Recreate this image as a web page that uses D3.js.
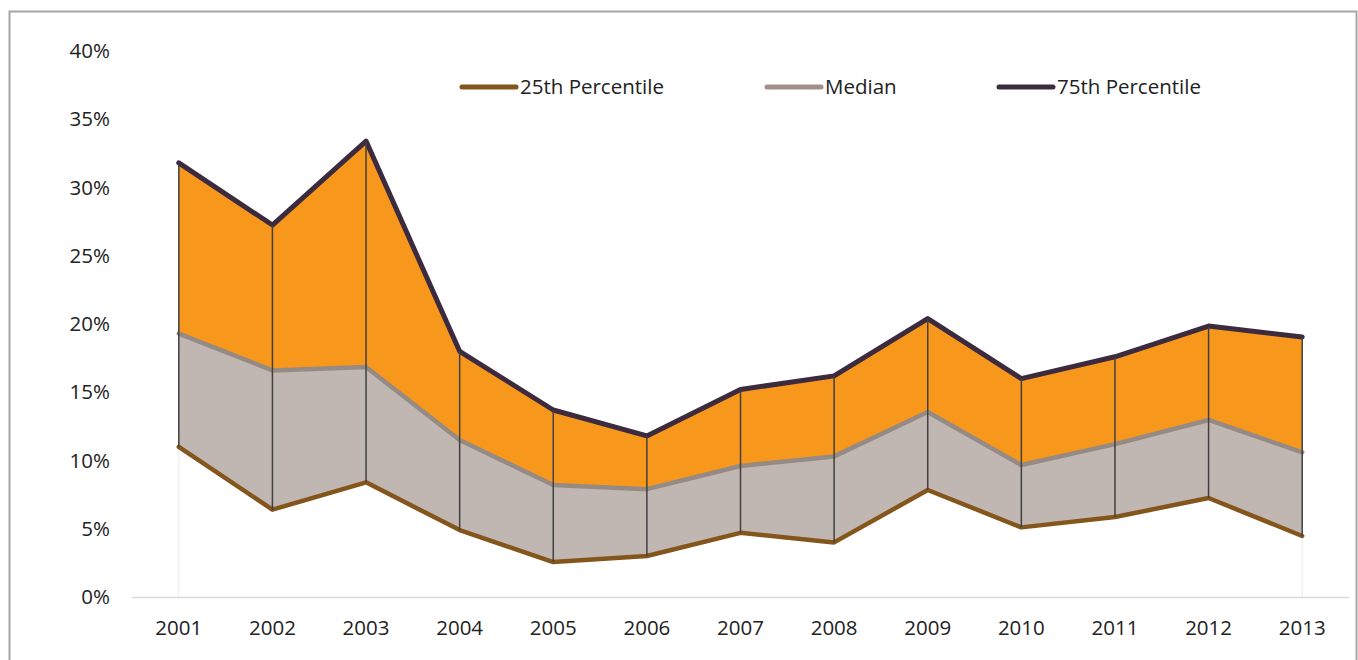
<!DOCTYPE html>
<html>
<head>
<meta charset="utf-8">
<script src="https://cdn.jsdelivr.net/npm/d3@7"></script>
<style>
    body { margin: 0; background: #fff; }
    svg text { font-family: "Open Sans", sans-serif; fill: #222; }
</style>
</head>
<body>
<div id="chart"></div>
<script>
const years = ["2001", "2002", "2003", "2004", "2005", "2006", "2007", "2008", "2009", "2010", "2011", "2012", "2013"];
const p25 = [11.0, 6.4, 8.4, 4.9, 2.56, 3.0, 4.7, 4.0, 7.84, 5.1, 5.86, 7.25, 4.47];
const median = [19.3, 16.6, 16.85, 11.5, 8.2, 7.9, 9.6, 10.3, 13.55, 9.67, 11.2, 12.97, 10.6];
const p75 = [31.8, 27.25, 33.4, 18.0, 13.7, 11.8, 15.2, 16.2, 20.4, 16.0, 17.6, 19.85, 19.05];
const yTicks = [0, 5, 10, 15, 20, 25, 30, 35, 40];
const seriesNames = ["25th Percentile", "Median", "75th Percentile"];

const width = 1358, height = 660;
const margin = {top: 51, right: 10, bottom: 63, left: 132};
const plotWidth = 1349 - margin.left,
    plotHeight = 597 - margin.top;

const svg = d3.select("#chart").append("svg")
    .attr("width", width)
    .attr("height", height);

// outer frame
svg.append("rect")
    .attr("x", 9.5).attr("y", 11.5)
    .attr("width", 1347).attr("height", 660)
    .style("fill", "none")
    .style("stroke", "#a6a6a6")
    .style("stroke-width", 2);

const g = svg.append("g")
    .attr("transform", `translate(${margin.left}, ${margin.top})`);

let x = d3.scalePoint().domain(years).range([0, plotWidth]).padding(0.5);
let y = d3.scaleLinear().domain([0, 40]).range([plotHeight, 0]);

const rows = years.map(function (d, i) {
    return {year: d, lo: p25[i], mid: median[i], hi: p75[i]};
});

// y tick labels
g.selectAll(".ytick")
    .data(yTicks)
    .enter().append("text")
    .attr("class", "ytick")
    .attr("x", -22)
    .attr("y", d => y(d))
    .attr("dy", "0.35em")
    .attr("text-anchor", "end")
    .style("font-size", "20.5px")
    .text(d => d + "%");

// faint drop lines at the ends
[years[0], years[years.length - 1]].forEach(function (yr) {
    const i = years.indexOf(yr);
    g.append("line")
        .attr("x1", x(yr)).attr("x2", x(yr))
        .attr("y1", y(p25[i])).attr("y2", plotHeight)
        .style("stroke", "#ececec")
        .style("stroke-width", 1);
});

// filled bands
g.append("path")
    .datum(rows)
    .style("fill", "#f7981d")
    .attr("d", d3.area()
        .x(d => x(d.year))
        .y0(d => y(d.mid))
        .y1(d => y(d.hi)));

g.append("path")
    .datum(rows)
    .style("fill", "#c0b6b2")
    .attr("d", d3.area()
        .x(d => x(d.year))
        .y0(d => y(d.lo))
        .y1(d => y(d.mid)));

// x axis line
g.append("line")
    .attr("x1", 0).attr("x2", plotWidth)
    .attr("y1", plotHeight + 0.5).attr("y2", plotHeight + 0.5)
    .style("stroke", "#d9d9d9")
    .style("stroke-width", 1.5);

g.selectAll(".xtick")
    .data(years)
    .enter().append("text")
    .attr("class", "xtick")
    .attr("x", d => x(d))
    .attr("y", plotHeight + 38)
    .attr("text-anchor", "middle")
    .style("font-size", "20.5px")
    .text(d => d);

// series lines
const lineColors = ["#84561c", "#968a84", "#3c2a3e"];
const lineWidths = [4.5, 4.5, 5];
const seriesData = [p25, median, p75];

seriesData.forEach(function (vals, k) {
    g.append("path")
        .datum(vals)
        .style("fill", "none")
        .style("stroke", lineColors[k])
        .style("stroke-width", lineWidths[k])
        .style("stroke-linejoin", "round")
        .style("stroke-linecap", "round")
        .attr("d", d3.line()
            .x((d, i) => x(years[i]))
            .y(d => y(d)));
});

// high-low lines
g.selectAll(".hilo")
    .data(rows)
    .enter().append("line")
    .attr("class", "hilo")
    .attr("x1", d => x(d.year)).attr("x2", d => x(d.year))
    .attr("y1", d => y(d.hi)).attr("y2", d => y(d.lo))
    .style("stroke", "#404040")
    .style("stroke-width", 1.5);

// legend
const legendX = [462, 767, 999];
const legendColors = ["#84561c", "#a09088", "#3c2a3e"];
seriesNames.forEach(function (name, k) {
    svg.append("line")
        .attr("x1", legendX[k]).attr("x2", legendX[k] + 54)
        .attr("y1", 87).attr("y2", 87)
        .style("stroke", legendColors[k])
        .style("stroke-width", 5)
        .style("stroke-linecap", "round");
    svg.append("text")
        .attr("x", legendX[k] + 58)
        .attr("y", 87)
        .attr("dy", "0.35em")
        .style("font-size", "20.5px")
        .text(name);
});
</script>
</body>
</html>
